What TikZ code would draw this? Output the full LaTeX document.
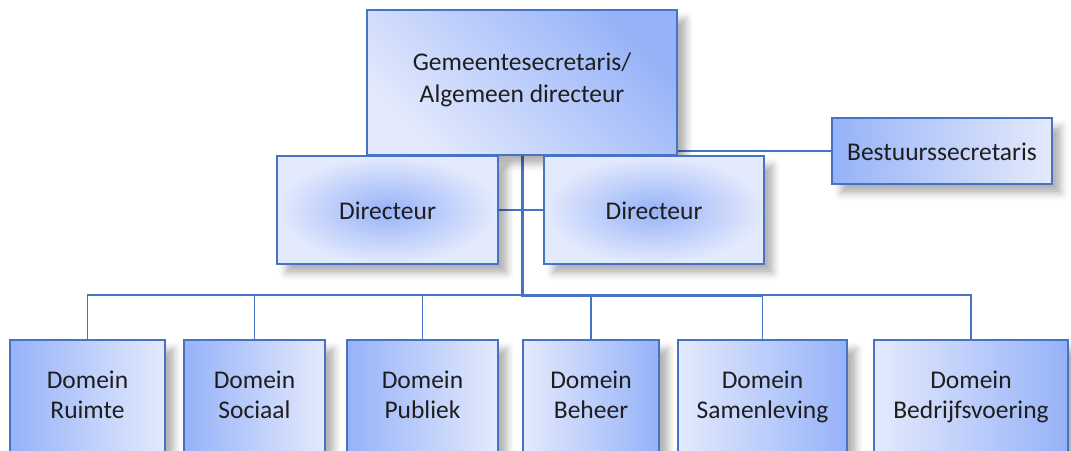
\documentclass[tikz,border=0pt]{standalone}
\usepackage{fontspec}
\setmainfont{Carlito}
\usepackage{xcolor}
\definecolor{orgblue}{RGB}{72,114,196}
\definecolor{orgdark}{RGB}{150,178,248}
\definecolor{orglight}{RGB}{228,234,253}
\definecolor{orgtext}{RGB}{30,30,30}
\usetikzlibrary{shadows.blur, backgrounds}
\tikzset{
  unit/.style={
    rectangle, draw=orgblue, line width=1.3pt,
    align=center, inner sep=0pt, text=orgtext,
    font=\fontsize{25.5}{30}\selectfont,
    execute at begin node={\rule{0pt}{28pt}},
    execute at end node={\strut},
    blur shadow={shadow xshift=9pt, shadow yshift=-9pt,
      shadow blur radius=7pt, shadow opacity=30}},
  headbox/.style={unit, font=\fontsize{25.5}{32}\selectfont,
    bottom color=orglight, top color=orgdark,
    shading angle=-45, minimum width=310pt, minimum height=145pt},
  dirbox/.style={unit, inner color=orgdark, outer color=orglight,
    minimum width=221pt, minimum height=108pt},
  staffbox/.style={unit, left color=orgdark, right color=orglight,
    minimum width=220pt, minimum height=66pt},
  domleft/.style={unit, left color=orgdark, right color=orglight,
    minimum height=118pt},
  domright/.style={unit, left color=orglight, right color=orgdark,
    minimum height=118pt},
  link/.style={orgblue, line width=1.3pt},
  trunk/.style={orgblue, line width=3pt},
}
\begin{document}
\begin{tikzpicture}[x=1pt, y=-1pt]
  \path[use as bounding box, clip] (0,0) rectangle (1071,450);

  \node[headbox] (gs) at (522,82.5) {Gemeentesecretaris/\\Algemeen directeur};
  \node[dirbox] (dirL) at (387.5,210) {Directeur};
  \node[dirbox, minimum width=220pt] (dirR) at (654,210) {Directeur};
  \node[staffbox] (bs) at (942,151) {Bestuurssecretaris};

  \node[domleft, minimum width=155pt] (ruimte) at (87.5,399) {Domein\\Ruimte};
  \node[domleft, minimum width=141pt] (sociaal) at (254.5,399) {Domein\\Sociaal};
  \node[domleft, minimum width=151pt] (publiek) at (422.5,399) {Domein\\Publiek};
  \node[domright, minimum width=136pt] (beheer) at (591,399) {Domein\\Beheer};
  \node[domright, minimum width=169pt] (samen) at (762.5,399) {Domein\\Samenleving};
  \node[domright, minimum width=194pt] (bedrijf) at (971,399) {Domein\\Bedrijfsvoering};

  \coordinate (bus) at (522,295);

  \begin{scope}[on background layer]
    \draw[link] (bs.west) -- (bs.west -| gs.south);
    \draw[link] (dirL.east) -- (dirR.west);
    \foreach \d in {ruimte, sociaal, publiek, beheer, samen, bedrijf}
      \draw[link] (bus) -| (\d.north);
    \draw[trunk] (gs.south) |- (samen.north |- bus);
  \end{scope}
\end{tikzpicture}
\end{document}
